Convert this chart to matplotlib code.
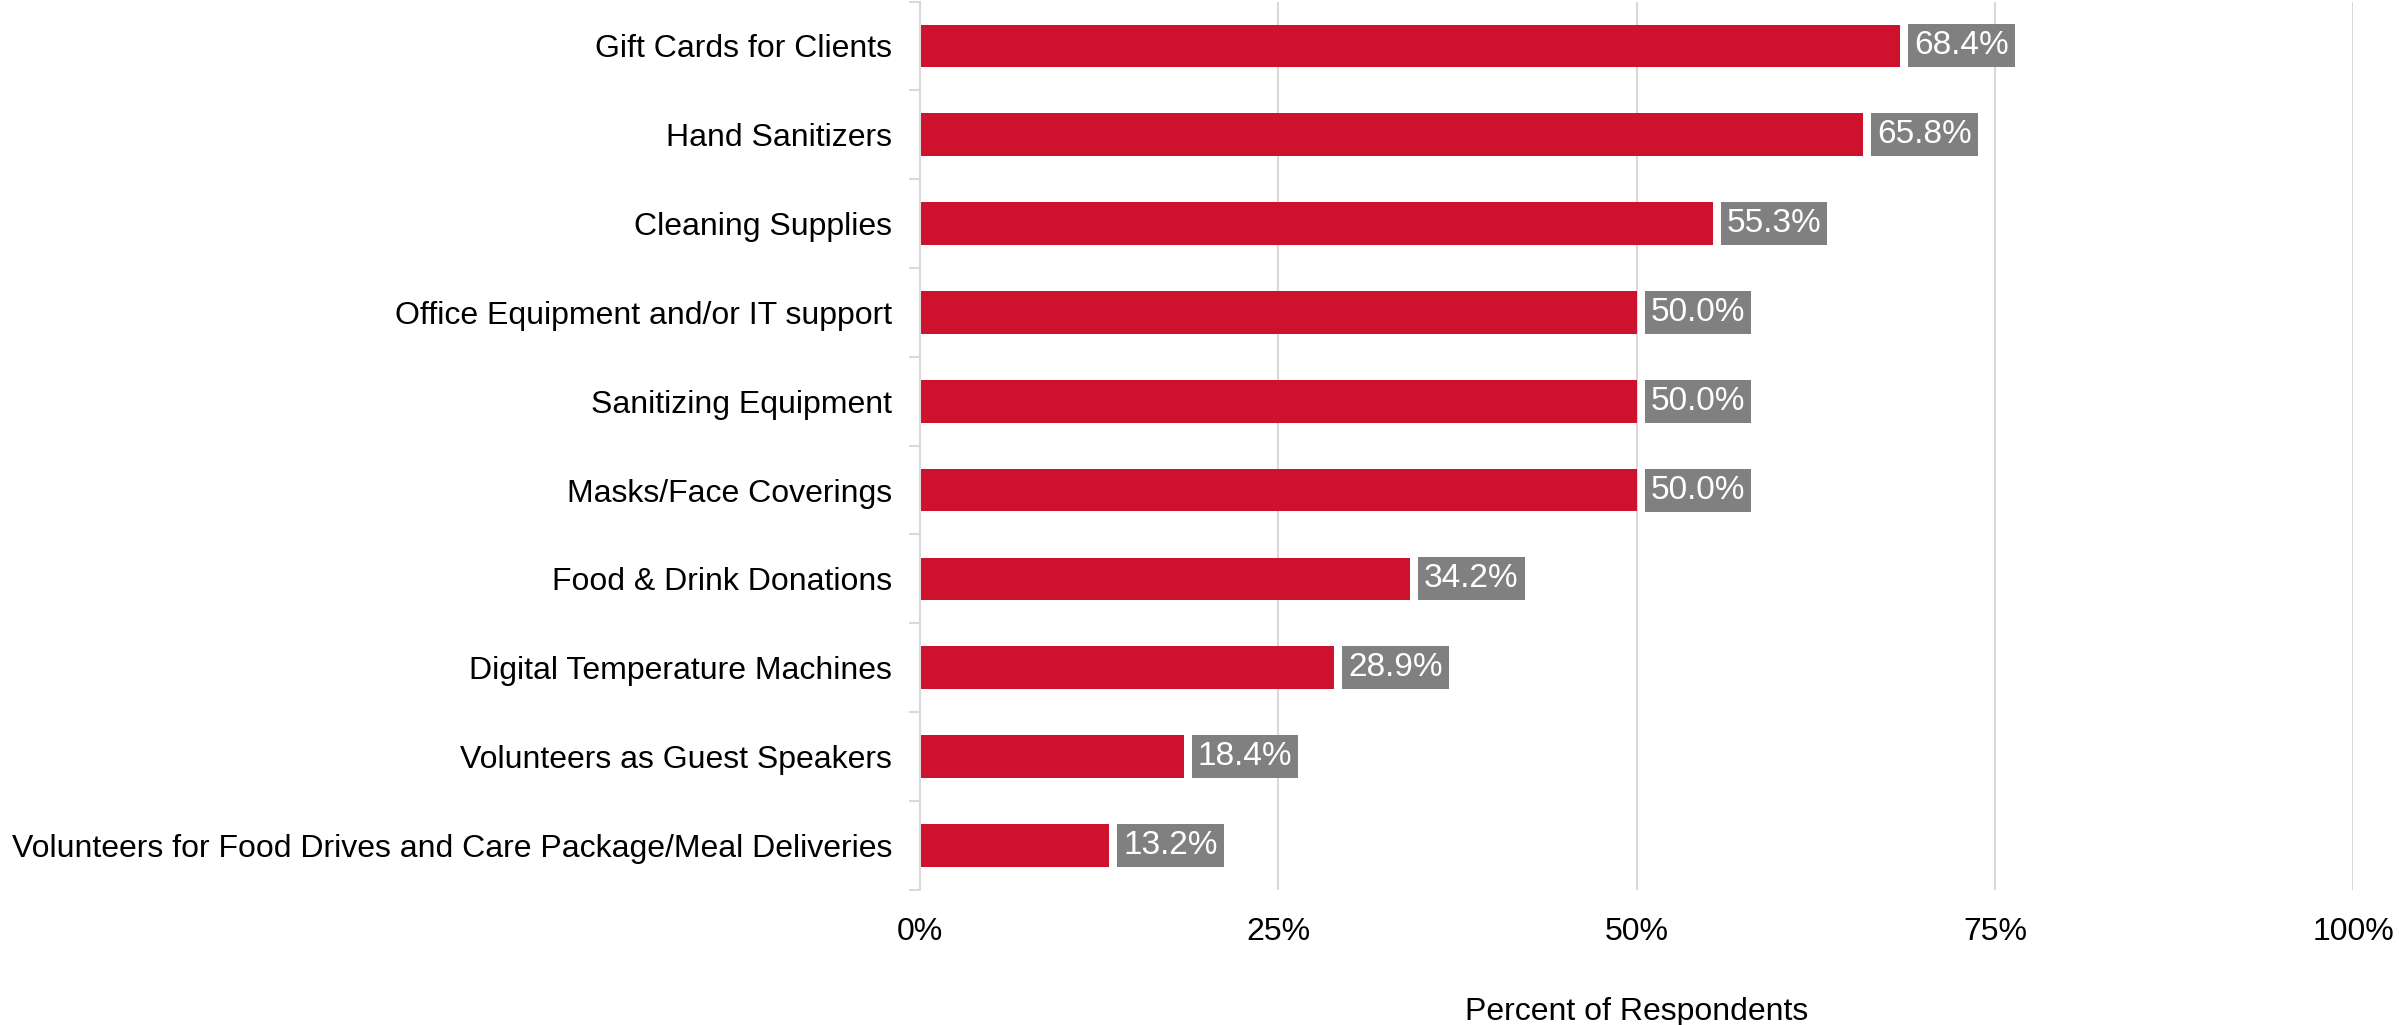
import numpy as np
import matplotlib; matplotlib.use("Agg")
import matplotlib.pyplot as plt
from matplotlib.ticker import FixedLocator, PercentFormatter

plt.rcParams["font.family"] = ["Liberation Sans", "DejaVu Sans"]

categories = [
    "Gift Cards for Clients",
    "Hand Sanitizers",
    "Cleaning Supplies",
    "Office Equipment and/or IT support",
    "Sanitizing Equipment",
    "Masks/Face Coverings",
    "Food & Drink Donations",
    "Digital Temperature Machines",
    "Volunteers as Guest Speakers",
    "Volunteers for Food Drives and Care Package/Meal Deliveries",
]
values = [68.4, 65.8, 55.3, 50.0, 50.0, 50.0, 34.2, 28.9, 18.4, 13.2]
x_ticks = [0, 25, 50, 75, 100]

BAR = "#CE112D"
GRID = "#D9D9D9"

fig = plt.figure(figsize=(23.99, 10.25), dpi=100)
ax = fig.add_axes([0.3835, 0.132, 0.5975, 0.8665])

y = np.arange(len(categories))
ax.barh(y, values, height=0.48, color=BAR, zorder=2)
ax.set_ylim(len(categories) - 0.5, -0.5)
ax.set_xlim(0, 100)

# value tags in grey boxes just right of each bar
for yi, v in zip(y, values):
    ax.annotate(f"{v:.1f}%", xy=(v, yi), xytext=(10, 0), textcoords="offset points",
                ha="left", va="center", fontsize=24, color="white", zorder=3,
                bbox=dict(boxstyle="square,pad=0.18", fc="#808080", ec="none"))

ax.set_yticks(y)
ax.set_yticklabels(categories, fontsize=23)
ax.tick_params(axis="y", which="major", length=0, pad=20)
ax.yaxis.set_minor_locator(FixedLocator(np.arange(-0.5, len(categories), 1.0)))
ax.tick_params(axis="y", which="minor", length=8, color=GRID, width=1.5)

ax.xaxis.set_major_locator(FixedLocator(x_ticks))
ax.xaxis.set_major_formatter(PercentFormatter(decimals=0))
ax.tick_params(axis="x", length=0, pad=20, labelsize=23)
ax.grid(axis="x", color=GRID, lw=1.5, zorder=0)
ax.set_xlabel("Percent of Respondents", fontsize=23, labelpad=36)

for s in ["top", "right", "bottom"]:
    ax.spines[s].set_visible(False)
ax.spines["left"].set_color(GRID)
ax.spines["left"].set_linewidth(1.5)

fig.savefig("out.png", dpi=100, facecolor="white")
